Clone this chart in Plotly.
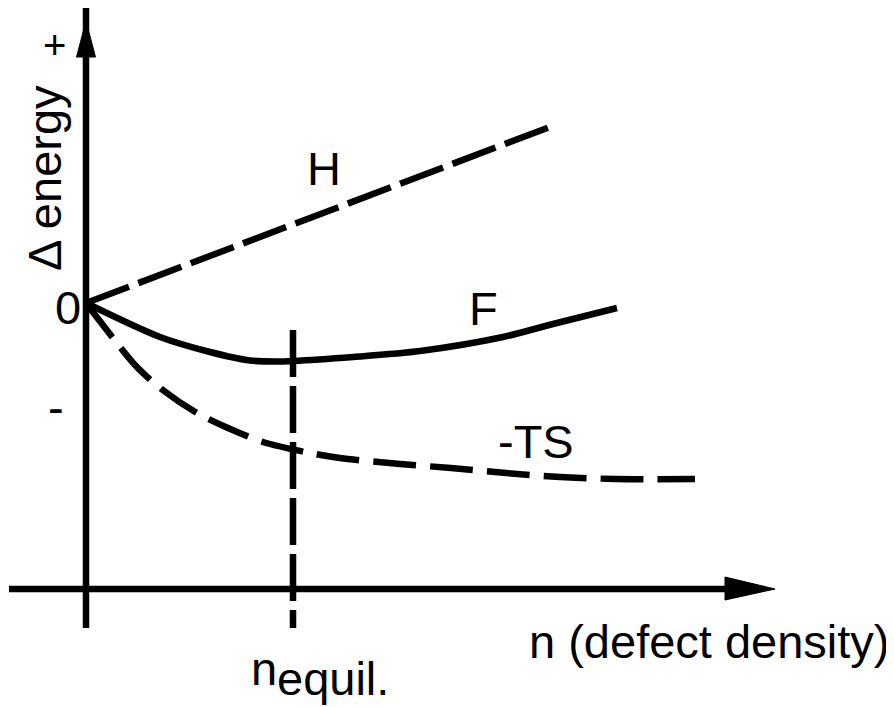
import plotly.graph_objects as go

# ---- data (arbitrary units: n along x, delta energy along y) ----
h_n = [0.0, 4.69]
h_e = [0.0, 1.78]

f_n = [0.0, 0.74, 1.24, 1.64, 1.90, 2.07, 2.67, 3.34, 4.17, 4.67, 5.31]
f_e = [0.0, -0.34, -0.49, -0.575, -0.585, -0.58, -0.54, -0.48, -0.34, -0.21, -0.05]

ts_n = [0.0, 0.27, 0.49, 0.74, 1.11, 1.42, 1.77, 2.19, 2.54, 3.14, 3.65, 4.20, 4.74, 5.30, 6.09]
ts_e = [0.0, -0.35, -0.62, -0.85, -1.10, -1.25, -1.39, -1.49, -1.55, -1.61, -1.65, -1.70, -1.74, -1.76, -1.76]

n_equil = 2.07
equil_line_e = [-0.27, -3.25]

curve_labels = ["H", "F", "-TS"]
curve_label_n = [2.38, 3.97, 4.495]
curve_label_e = [1.345, -0.055, -1.385]

# axes geometry (data units)
x_axis_e = -2.86
x_axis_n = [-0.77, 6.45]
y_axis_e = [-3.25, 2.96]

FONT = "Liberation Sans, Arial, sans-serif"
LW = 6.5
FS = 47

fig = go.Figure()

fig.add_trace(go.Scatter(x=h_n, y=h_e, mode="lines",
                         line=dict(color="black", width=LW, dash="46px,10px")))
fig.add_trace(go.Scatter(x=f_n, y=f_e, mode="lines",
                         line=dict(color="black", width=LW, shape="spline", smoothing=0.8)))
fig.add_trace(go.Scatter(x=ts_n, y=ts_e, mode="lines",
                         line=dict(color="black", width=LW, shape="spline", smoothing=0.8,
                                   dash="43px,14px")))
fig.add_trace(go.Scatter(x=[n_equil, n_equil], y=equil_line_e, mode="lines",
                         line=dict(color="black", width=LW, dash="47px,9px")))

shapes = [
    dict(type="line", xref="x", yref="y", x0=x_axis_n[0], x1=x_axis_n[1],
         y0=x_axis_e, y1=x_axis_e, line=dict(color="black", width=LW)),
    dict(type="path", xref="x", yref="y",
         path=f"M {x_axis_n[1]-0.06},{x_axis_e+0.12} L {x_axis_n[1]+0.44},{x_axis_e} "
              f"L {x_axis_n[1]-0.06},{x_axis_e-0.11} Z",
         fillcolor="black", line=dict(color="black", width=1)),
    dict(type="line", xref="x", yref="y", x0=0, x1=0,
         y0=y_axis_e[0], y1=y_axis_e[1], line=dict(color="black", width=LW)),
    dict(type="path", xref="x", yref="y",
         path=f"M -0.095,{y_axis_e[1]-0.50} L 0,{y_axis_e[1]-0.14} L 0.095,{y_axis_e[1]-0.50} Z",
         fillcolor="black", line=dict(color="black", width=1)),
]

tfont = dict(family=FONT, size=FS, color="black")
annotations = []
for t, xn, ye in zip(curve_labels, curve_label_n, curve_label_e):
    annotations.append(dict(x=xn, y=ye, xref="x", yref="y", text=t, showarrow=False,
                            xanchor="center", yanchor="middle", font=tfont))

annotations += [
    dict(x=-0.32, y=2.58, xref="x", yref="y", text="+", showarrow=False,
         xanchor="center", yanchor="middle", font=dict(family=FONT, size=40, color="black")),
    dict(x=-0.185, y=-0.045, xref="x", yref="y", text="0", showarrow=False,
         xanchor="center", yanchor="middle", font=tfont),
    dict(x=-0.30, y=-1.04, xref="x", yref="y", text="-", showarrow=False,
         xanchor="center", yanchor="middle", font=tfont),
    dict(x=-0.42, y=1.25, xref="x", yref="y", text="\u0394 energy", textangle=-90,
         showarrow=False, xanchor="center", yanchor="middle", font=tfont),
    dict(x=6.23, y=-3.387, xref="x", yref="y", text="n (defect density)", showarrow=False,
         xanchor="center", yanchor="middle", font=tfont),
    dict(x=1.78, y=-3.657, xref="x", yref="y", text="n", showarrow=False,
         xanchor="center", yanchor="middle", font=tfont),
    dict(x=2.465, y=-3.757, xref="x", yref="y", text="equil.", showarrow=False,
         xanchor="center", yanchor="middle", font=tfont),
]

# the page places the figure 8px from the window's top-left corner
fig.update_layout(
    width=886, height=699,
    margin=dict(l=0, r=0, t=0, b=0),
    paper_bgcolor="white", plot_bgcolor="white",
    showlegend=False,
    xaxis=dict(range=[-0.78, 8.08], visible=False, fixedrange=True),
    yaxis=dict(range=[-4.04, 2.95], visible=False, fixedrange=True),
    shapes=shapes,
    annotations=annotations,
)

fig.write_html("out.html")
